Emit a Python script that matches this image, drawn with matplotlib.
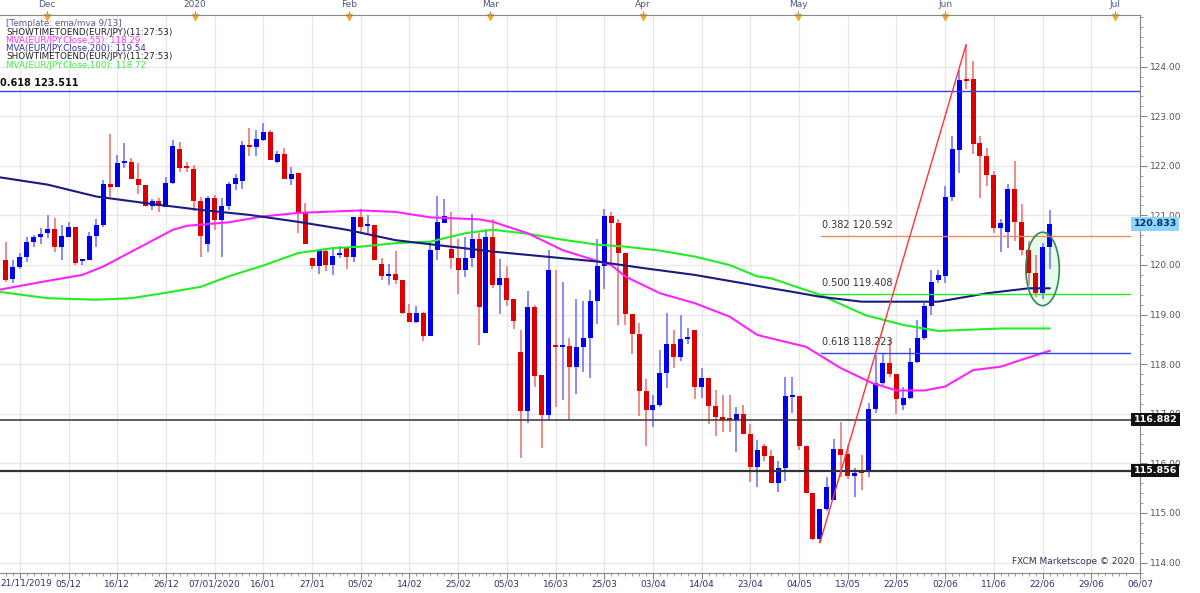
import numpy as np
import matplotlib
matplotlib.use("Agg")
import matplotlib.pyplot as plt
from matplotlib.patches import Ellipse

# ---------------- data ----------------
start_index = -2
opens = [120.10,119.71,119.95,120.17,120.46,120.56,120.65,120.73,120.36,120.57,
         120.77,120.09,120.10,120.59,120.80,121.63,121.57,122.05,122.08,121.73,
         121.62,121.18,121.30,121.16,121.66,122.33,121.98,121.94,121.29,120.42,
         121.35,120.91,121.18,121.63,121.70,122.42,122.37,122.52,122.68,122.08,
         122.23,121.73,121.85,121.04,120.14,119.97,120.29,120.00,120.20,120.35,
         120.17,120.96,120.79,120.80,120.02,119.78,119.82,119.70,119.03,118.86,
         119.03,118.56,120.30,120.85,120.32,120.14,119.90,120.14,120.52,118.63,
         120.56,119.60,119.73,119.31,118.25,117.06,119.15,117.78,116.98,118.39,
         118.35,118.37,117.95,118.34,118.52,119.28,119.97,120.99,120.85,120.24,
         119.01,118.61,117.45,117.08,117.18,117.83,118.41,118.14,118.51,118.68,
         117.53,117.72,117.16,116.94,116.90,116.88,117.00,116.60,115.92,116.35,
         116.14,115.60,115.90,117.33,117.36,116.35,115.40,114.47,115.08,115.27,
         116.30,116.19,115.75,115.81,115.83,117.09,117.63,118.02,117.80,117.18,
         117.31,118.05,118.52,119.17,119.69,119.78,121.37,122.32,123.73,123.75,
         122.46,122.19,121.82,120.74,120.66,121.53,120.86,120.30,119.84,119.43,
         120.37]
highs = [120.47,120.10,120.24,120.57,120.61,120.74,121.00,120.94,120.81,120.87,
         120.77,120.12,120.67,120.92,121.71,122.64,122.22,122.45,122.15,122.05,
         121.62,121.33,121.35,121.77,122.51,122.47,122.08,122.02,121.38,121.40,
         121.41,121.35,121.68,121.83,122.49,122.76,122.72,122.86,122.72,122.29,
         122.35,121.98,121.85,121.24,120.14,120.30,120.34,120.37,120.39,120.35,
         120.96,121.13,121.01,120.80,120.14,120.02,120.29,119.70,119.22,119.18,
         119.06,120.47,121.39,121.33,121.06,120.52,120.57,121.03,120.65,120.72,
         120.92,120.12,119.98,119.31,118.68,119.48,119.20,117.78,120.30,119.89,
         119.66,118.52,119.31,119.28,119.50,120.52,121.12,121.06,120.92,120.24,
         119.01,118.84,117.70,117.38,118.29,119.03,118.68,118.99,118.73,118.69,
         117.92,117.72,117.47,117.38,117.38,117.13,117.18,116.80,116.47,116.40,
         116.26,116.05,117.75,117.75,117.36,116.35,115.40,115.08,115.72,116.50,
         116.84,116.37,115.90,116.17,117.22,118.19,118.21,118.50,117.80,117.54,
         118.32,118.89,119.23,119.90,119.89,121.60,122.60,123.93,124.44,124.12,
         122.60,122.35,121.90,120.92,121.63,122.10,121.23,120.49,120.20,120.44,
         121.10]
lows = [119.66,119.64,119.91,120.07,120.37,120.43,120.54,120.26,120.10,120.57,
        120.00,119.99,120.10,120.37,120.76,121.38,121.57,121.95,121.73,121.43,
        121.18,121.10,121.06,121.16,121.63,121.88,121.88,121.08,120.17,120.27,
        120.71,120.17,121.11,121.51,121.53,122.19,122.20,122.49,122.12,122.05,
        121.73,121.61,120.64,120.42,119.92,119.81,119.87,119.79,120.14,119.92,
        120.07,120.64,120.64,120.10,119.69,119.60,119.62,119.02,118.86,118.84,
        118.46,118.56,120.10,120.85,119.91,119.42,119.75,119.96,118.39,118.63,
        119.53,119.02,119.18,118.71,116.10,116.81,117.53,116.31,116.88,117.13,
        117.28,116.88,117.40,117.85,117.72,118.81,119.51,119.97,118.79,118.79,
        118.21,116.96,116.35,116.73,117.13,117.52,117.92,118.07,118.41,117.30,
        117.32,116.80,116.55,116.64,116.64,116.22,116.60,115.63,115.53,116.04,
        115.60,115.43,115.64,117.02,116.27,115.40,114.46,114.40,115.03,115.27,
        115.73,115.68,115.32,115.47,115.72,117.02,117.58,117.74,117.00,117.08,
        117.29,118.02,118.49,118.99,119.63,119.63,121.28,121.85,123.54,122.24,
        121.35,121.60,120.65,120.27,120.34,120.49,120.20,119.60,119.36,119.31,
        119.91]
closes = [119.69,119.95,120.17,120.46,120.56,120.62,120.73,120.36,120.59,120.77,
          120.05,120.11,120.59,120.81,121.63,121.57,122.06,122.08,121.73,121.62,
          121.18,121.30,121.19,121.66,122.39,121.95,121.95,121.29,120.59,121.35,
          120.91,121.18,121.63,121.75,122.42,122.37,122.54,122.68,122.12,122.23,
          121.73,121.83,121.04,120.42,119.97,120.30,120.00,120.19,120.22,120.17,
          120.96,120.77,120.81,120.10,119.77,119.80,119.70,119.03,118.86,119.03,
          118.56,120.30,120.86,120.99,120.14,119.89,120.14,120.52,119.15,120.56,
          119.60,119.73,119.30,118.87,117.06,119.15,117.76,116.98,119.89,118.35,
          118.37,117.95,118.34,118.52,119.28,119.98,120.99,120.85,120.24,119.01,
          118.61,117.45,117.08,117.18,117.83,118.41,118.14,118.50,118.53,117.53,
          117.72,117.16,116.94,116.88,116.88,117.00,116.60,115.92,116.27,116.14,
          115.60,115.90,117.35,117.35,116.35,115.40,114.47,115.08,115.53,116.30,
          116.17,115.74,115.81,115.80,117.09,117.63,118.02,117.80,117.29,117.31,
          118.05,118.52,119.17,119.65,119.80,121.38,122.33,123.73,123.71,122.44,
          122.19,121.82,120.74,120.84,121.53,120.86,120.30,119.84,119.43,120.37,
          120.833]

# moving averages (read at sample positions, bar-index units)
ma200_x = [-3, 4, 11, 19, 26, 33, 40, 47, 54, 68, 83, 90, 97, 104, 108, 111, 115, 121, 132, 139, 145, 148]
ma200_y = [121.77, 121.62, 121.38, 121.23, 121.11, 121.01, 120.87, 120.71, 120.50, 120.27, 120.07, 119.93,
           119.80, 119.63, 119.53, 119.46, 119.36, 119.26, 119.26, 119.43, 119.53, 119.53]
ma55_x = [-3, 4, 9, 12, 17, 22, 24, 30, 35, 40, 49, 54, 59, 66, 68, 73, 78, 83, 85, 87, 92, 97, 102, 106,
          108, 113, 118, 122.5, 126, 130, 133, 137, 141, 144, 148]
ma55_y = [119.50, 119.68, 119.80, 119.97, 120.34, 120.71, 120.79, 120.86, 120.98, 121.05, 121.10, 121.07,
          120.96, 120.92, 120.87, 120.64, 120.30, 120.08, 120.00, 119.77, 119.43, 119.23, 118.96, 118.59,
          118.52, 118.35, 117.92, 117.62, 117.47, 117.47, 117.55, 117.88, 117.95, 118.09, 118.27]
ma100_x = [-3, 4, 11, 16, 21, 26, 30, 35, 40, 45, 49, 54, 59, 64, 68, 73, 78, 83, 87, 92, 97, 102, 106,
           108, 115, 121.5, 127, 132, 141, 148]
ma100_y = [119.46, 119.33, 119.30, 119.33, 119.44, 119.56, 119.77, 119.99, 120.24, 120.34, 120.37, 120.44,
           120.47, 120.64, 120.71, 120.63, 120.51, 120.41, 120.37, 120.29, 120.17, 120.00, 119.77,
           119.73, 119.40, 118.99, 118.79, 118.67, 118.72, 118.72]

fib_levels = [123.511, 120.592, 119.408, 118.223]
fib_names = ["0.618", "0.382", "0.500", "0.618"]
support_levels = [116.882, 115.856]
last_price = 120.833
trend_from = (115, 114.40)
trend_to = (136, 124.44)

date_tick_labels = ["21/11/2019", "05/12", "16/12", "26/12", "07/01/2020", "16/01", "27/01", "05/02",
                    "14/02", "25/02", "05/03", "16/03", "25/03", "03/04", "14/04", "23/04", "04/05",
                    "13/05", "22/05", "02/06", "11/06", "22/06", "29/06", "06/07"]
month_labels = ["Dec", "2020", "Feb", "Mar", "Apr", "May", "Jun", "Jul"]
month_pos = [3.8, 24.9, 46.9, 67, 88.7, 110.8, 131.8, 156]
price_ticks = [114, 115, 116, 117, 118, 119, 120, 121, 122, 123, 124]

# ---------------- plot ----------------
fig = plt.figure(figsize=(12, 5.93), dpi=100)
ax = fig.add_axes([0.0, 20 / 593, 0.95, 558 / 593])
XMIN, XMAX = -2.85, 159.5
YMIN, YMAX = 113.79, 125.04
ax.set_xlim(XMIN, XMAX)
ax.set_ylim(YMIN, YMAX)

idx = np.arange(start_index, start_index + len(opens))
o = np.array(opens); h = np.array(highs); l = np.array(lows); c = np.array(closes)
up = c >= o
gridc = "#e8e8e8"
for p in price_ticks:
    ax.axhline(p, color=gridc, lw=1, zorder=0)
for k in range(len(date_tick_labels)):
    ax.axvline(7 * k, color=gridc, lw=1, zorder=0)

wick_col = np.where(up, "#8080ff", "#f08080")
body_col = np.where(up, "#0000ee", "#dd0000")
ax.vlines(idx, l, h, colors=wick_col, lw=1.3, zorder=2)
bottom = np.minimum(o, c)
height = np.maximum(np.abs(c - o), 0.04)
ax.bar(idx, height, bottom=bottom, width=0.72, color=body_col, zorder=3, linewidth=0)

ax.plot(ma100_x, ma100_y, color="#22ee22", lw=1.5, zorder=4)
ax.plot(ma55_x, ma55_y, color="#ff22ff", lw=1.5, zorder=4)
ax.plot(ma200_x, ma200_y, color="#1a1a80", lw=1.5, zorder=4)

# fib lines
ax.axhline(fib_levels[0], color="#3344ee", lw=1, zorder=5)
ax.text(-2.8, fib_levels[0] + 0.05, f"{fib_names[0]} {fib_levels[0]:.3f}", fontsize=7, color="#111111",
        va="bottom", ha="left", fontweight="bold")
fib_cols = ["#f08a5d", "#22ee22", "#3344ee"]
for lev, name, col in zip(fib_levels[1:], fib_names[1:], fib_cols):
    ax.plot([115.2, XMAX], [lev, lev], color=col, lw=1, zorder=5)
    ax.text(115.3, lev + 0.12, f"{name} {lev:.3f}", fontsize=7, color="#333333", va="bottom", ha="left")
for lev in support_levels:
    ax.axhline(lev, color="#333333", lw=1.1 if lev > 116 else 1.6, zorder=5)
ax.plot([trend_from[0], trend_to[0]], [trend_from[1], trend_to[1]], color="#ff3333", lw=1, zorder=6)
ax.add_patch(Ellipse((147.0, 119.92), 4.8, 1.48, facecolor="#ccf5cc", alpha=0.45, edgecolor="none", zorder=1))
ax.add_patch(Ellipse((147.0, 119.92), 4.8, 1.48, facecolor="none", edgecolor="#2e8b57", lw=1.2, zorder=7))

# legend text
leg = [("[Template: ema/mva 9/13]", "#5a5a90"),
       ("SHOWTIMETOEND(EUR/JPY)(11:27:53)", "#222222"),
       ("MVA(EUR/JPY.Close,55): 118.29", "#ff33ff"),
       ("MVA(EUR/JPY.Close,200): 119.54", "#333399"),
       ("SHOWTIMETOEND(EUR/JPY)(11:27:53)", "#222222"),
       ("MVA(EUR/JPY.Close,100): 118.72", "#44ee44")]
for k, (t, col) in enumerate(leg):
    fig.text(6 / 1200, 1 - (24 + 8.2 * k) / 593, t, fontsize=6.3, color=col, va="center", ha="left")
ax.text(0.995, 0.012, "FXCM Marketscope © 2020", transform=ax.transAxes, fontsize=6.5,
        color="#333355", ha="right", va="bottom")

# axes / ticks
for s in ["top", "left"]:
    ax.spines[s].set_visible(False)
ax.spines["right"].set_color("#888888")
ax.spines["bottom"].set_color("#888888")
ax.yaxis.tick_right()
ax.set_yticks(price_ticks)
ax.set_yticklabels([f"{p:.2f}" for p in price_ticks], fontsize=6.5, color="#555555")
ax.set_yticks(np.arange(113.8, 125.0, 0.2), minor=True)
ax.tick_params(axis="y", which="major", length=5, color="#888888", pad=2)
ax.tick_params(axis="y", which="minor", length=2, color="#888888")
ax.set_xticks([7 * k for k in range(len(date_tick_labels))])
ax.set_xticklabels([""] + date_tick_labels[1:], fontsize=6.5, color="#333366")
ax.text(XMIN + 0.1, -0.0105, date_tick_labels[0], transform=ax.get_xaxis_transform(), fontsize=6.5,
        color="#333366", ha="left", va="top")
ax.set_xticks(np.arange(-2, 160, 1), minor=True)
ax.tick_params(axis="x", which="major", length=4, color="#888888", pad=1)
ax.tick_params(axis="x", which="minor", length=2, color="#888888")

# top month axis
ax2 = ax.twiny()
ax2.set_xlim(XMIN, XMAX)
ax2.set_xticks(month_pos)
ax2.set_xticklabels(month_labels, fontsize=6.5, color="#555588")
ax2.tick_params(axis="x", length=3, color="#888888", pad=1)
for s in ["left", "right", "bottom"]:
    ax2.spines[s].set_visible(False)
ax2.spines["top"].set_color("#888888")
ax2.set_ylim(YMIN, YMAX)
ax2.plot(month_pos, [YMAX - 0.05] * len(month_pos), marker="v", ls="none", color="#f5a623", ms=5,
         clip_on=False)

# price boxes on right axis
def box(val, fc, tc):
    ax.text(XMAX + 0.6, val, f"{val:.3f}", fontsize=6.8, color=tc, va="center", ha="left", fontweight="bold",
            bbox=dict(boxstyle="square,pad=0.25", fc=fc, ec="none"), clip_on=False, zorder=10)
box(last_price, "#8fd3ff", "#003366")
for lev in support_levels:
    box(lev, "#111111", "#ffffff")

fig.savefig("out.png", dpi=100, facecolor="white")
